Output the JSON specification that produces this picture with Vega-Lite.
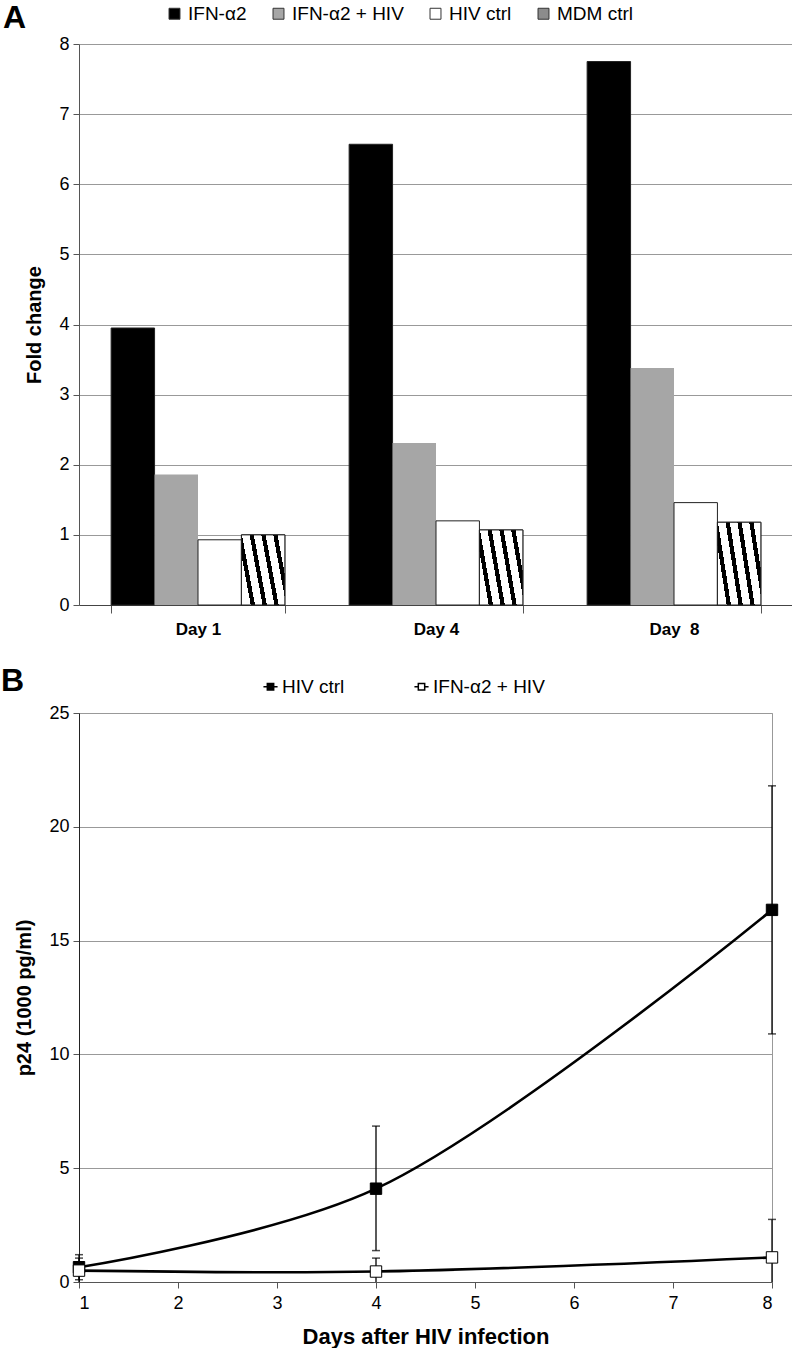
{
  "$schema": "https://vega.github.io/schema/vega-lite/v6.json",
  "padding": {"top": 2, "left": 0, "right": 0, "bottom": 0},
  "background": "white",
  "config": {
    "font": "Liberation Sans",
    "view": {"stroke": null},
    "axis": {"labelColor": "black", "titleColor": "black", "labelFontSize": 18, "titleFontSize": 20, "titleFontWeight": "bold", "domainColor": "#555", "tickColor": "#555", "gridColor": "#999", "labelFont": "Liberation Sans", "titleFont": "Liberation Sans"},
    "legend": {"labelFontSize": 19, "labelColor": "black", "labelFont": "Liberation Sans"},
    "title": {"font": "Liberation Sans", "fontSize": 32, "fontWeight": "bold", "color": "black"}
  },
  "resolve": {"scale": {"fill": "independent"}, "legend": {"fill": "independent"}},
  "spacing": 27,
  "vconcat": [
    {
      "width": 714,
      "height": 561,
      "title": {"text": "A", "anchor": "start", "frame": "group", "dx": -76, "offset": -31},
      "data": {"values": [
        {"day": "Day 1", "series": "IFN-α2", "value": 3.95},
        {"day": "Day 1", "series": "IFN-α2 + HIV", "value": 1.86},
        {"day": "Day 1", "series": "HIV ctrl", "value": 0.93},
        {"day": "Day 1", "series": "MDM ctrl", "value": 1.0},
        {"day": "Day 4", "series": "IFN-α2", "value": 6.57},
        {"day": "Day 4", "series": "IFN-α2 + HIV", "value": 2.31},
        {"day": "Day 4", "series": "HIV ctrl", "value": 1.2},
        {"day": "Day 4", "series": "MDM ctrl", "value": 1.07},
        {"day": "Day \u00a08", "series": "IFN-α2", "value": 7.75},
        {"day": "Day \u00a08", "series": "IFN-α2 + HIV", "value": 3.38},
        {"day": "Day \u00a08", "series": "HIV ctrl", "value": 1.46},
        {"day": "Day \u00a08", "series": "MDM ctrl", "value": 1.18}
      ]},
      "encoding": {
        "x": {"field": "day", "type": "nominal", "sort": null,
              "scale": {"paddingInner": 0.27, "paddingOuter": 0.135},
              "axis": {"title": null, "labelAngle": 0, "labelFontWeight": "bold", "labelFontSize": 17, "tickBand": "extent", "tickSize": 8, "labelPadding": 8, "domainColor": "#444"}},
        "xOffset": {"field": "series", "type": "nominal", "sort": ["IFN-α2", "IFN-α2 + HIV", "HIV ctrl", "MDM ctrl"], "scale": {"domain": ["IFN-α2", "IFN-α2 + HIV", "HIV ctrl", "MDM ctrl"], "paddingInner": 0, "paddingOuter": 0}},
        "y": {"field": "value", "type": "quantitative",
              "scale": {"domain": [0, 8], "nice": false},
              "axis": {"title": "Fold change", "values": [0,1,2,3,4,5,6,7,8], "labelOverlap": false, "grid": true, "tickSize": 6, "labelPadding": 4, "titlePadding": 14}}
      },
      "layer": [
        {
          "mark": {"type": "bar", "strokeWidth": 1},
          "encoding": {
            "fill": {"field": "series", "type": "nominal",
                     "scale": {"domain": ["IFN-α2", "IFN-α2 + HIV", "HIV ctrl", "MDM ctrl"], "range": ["#000000", "#a6a6a6", "#ffffff", "#8c8c8c"]},
                     "legend": {"title": null, "orient": "none", "direction": "horizontal", "legendX": 86, "legendY": -40, "symbolType": "square", "symbolSize": 120, "symbolStrokeColor": "#333", "symbolStrokeWidth": 1, "columnPadding": 22, "labelOffset": 4}},
            "stroke": {"condition": {"test": "datum.series === 'IFN-α2 + HIV'", "value": null}, "value": "#222"}
          }
        },
        {
          "transform": [{"filter": "datum.series === 'MDM ctrl'"}],
          "mark": {"type": "bar", "stroke": "#222", "strokeWidth": 1,
                   "fill": {"gradient": "linear", "x1": 0, "y1": 0.65, "x2": 1, "y2": 0.35,
                            "stops": [
                              {"offset": 0.0, "color": "#ffffff"},
                              {"offset": 0.10, "color": "#ffffff"},
                              {"offset": 0.10, "color": "#000000"},
                              {"offset": 0.19, "color": "#000000"},
                              {"offset": 0.19, "color": "#ffffff"},
                              {"offset": 0.35, "color": "#ffffff"},
                              {"offset": 0.35, "color": "#000000"},
                              {"offset": 0.44, "color": "#000000"},
                              {"offset": 0.44, "color": "#ffffff"},
                              {"offset": 0.60, "color": "#ffffff"},
                              {"offset": 0.60, "color": "#000000"},
                              {"offset": 0.69, "color": "#000000"},
                              {"offset": 0.69, "color": "#ffffff"},
                              {"offset": 0.85, "color": "#ffffff"},
                              {"offset": 0.85, "color": "#000000"},
                              {"offset": 0.94, "color": "#000000"},
                              {"offset": 0.94, "color": "#ffffff"},
                              {"offset": 1.0, "color": "#ffffff"}
                            ]}}
        }
      ]
    },
    {
      "width": 693,
      "height": 569,
      "title": {"text": "B", "anchor": "start", "frame": "group", "dx": -78, "offset": -21},
      "view": {"stroke": "#999", "strokeWidth": 1},
      "data": {"values": [
        {"series": "HIV ctrl", "day": 1, "value": 0.65, "lo": 0.1, "hi": 1.2},
        {"series": "HIV ctrl", "day": 4, "value": 4.1, "lo": 1.38, "hi": 6.85},
        {"series": "HIV ctrl", "day": 8, "value": 16.35, "lo": 10.9, "hi": 21.8},
        {"series": "IFN-α2 + HIV", "day": 1, "value": 0.5, "lo": 0, "hi": 1.05},
        {"series": "IFN-α2 + HIV", "day": 4, "value": 0.46, "lo": 0, "hi": 1.05},
        {"series": "IFN-α2 + HIV", "day": 8, "value": 1.08, "lo": 0, "hi": 2.75}
      ]},
      "encoding": {
        "x": {"field": "day", "type": "quantitative",
              "scale": {"domain": [1, 8], "nice": false, "zero": false},
              "axis": {"title": "Days after HIV infection", "titleFontSize": 22, "values": [1,2,3,4,5,6,7,8], "grid": false, "tickSize": 6, "labelPadding": 6, "titlePadding": 14, "domainColor": "#555"}},
        "y": {"field": "value", "type": "quantitative",
              "scale": {"domain": [0, 25], "nice": false},
              "axis": {"title": "p24 (1000 pg/ml)", "values": [0,5,10,15,20,25], "grid": true, "tickSize": 6, "labelPadding": 4, "titlePadding": 14, "domainColor": "#222"}}
      },
      "layer": [
        {
          "mark": {"type": "line", "interpolate": "catmull-rom", "color": "black", "strokeWidth": 2.6},
          "encoding": {"detail": {"field": "series", "type": "nominal"}}
        },
        {
          "mark": {"type": "rule", "color": "black", "strokeWidth": 1.3},
          "encoding": {"y": {"field": "lo", "type": "quantitative"}, "y2": {"field": "hi"}}
        },
        {
          "mark": {"type": "tick", "orient": "horizontal", "color": "black", "size": 8, "thickness": 1.5},
          "encoding": {"y": {"field": "hi", "type": "quantitative"}}
        },
        {
          "transform": [{"filter": "datum.lo > 0"}],
          "mark": {"type": "tick", "orient": "horizontal", "color": "black", "size": 8, "thickness": 1.5},
          "encoding": {"y": {"field": "lo", "type": "quantitative"}}
        },
        {
          "mark": {"type": "point", "shape": "square", "filled": true, "size": 130, "stroke": "black", "strokeWidth": 1, "opacity": 1},
          "encoding": {
            "fill": {"field": "series", "type": "nominal",
                     "scale": {"domain": ["HIV ctrl", "IFN-α2 + HIV"], "range": ["#000000", "#ffffff"]},
                     "legend": {"title": null, "orient": "none", "direction": "horizontal", "legendX": 182, "legendY": -36, "symbolType": "M-1,0H-0.45M0.45,0H1M-0.45,-0.45H0.45V0.45H-0.45Z", "symbolSize": 200, "symbolStrokeColor": "black", "symbolStrokeWidth": 1.5, "columnPadding": 66, "labelOffset": 2}}
          }
        }
      ]
    }
  ]
}
